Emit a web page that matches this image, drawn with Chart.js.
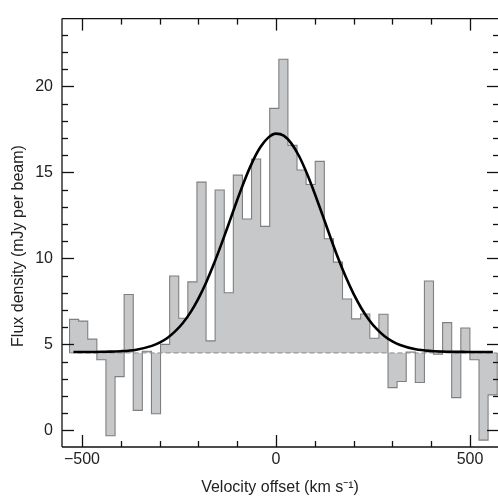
<!DOCTYPE html>
<html>
<head>
<meta charset="utf-8">
<script src="https://cdn.jsdelivr.net/npm/chart.js@4.4.0/dist/chart.umd.min.js"></script>
<style>
html,body{margin:0;padding:0;background:#fff;}
#wrap{width:498px;height:497px;}
</style>
</head>
<body>
<div id="wrap"><canvas id="c" width="498" height="497"></canvas></div>
<script>
// ---- data ----
const binCenters = [-520.3,-496.8,-473.4,-449.9,-426.5,-403.0,-379.6,-356.1,-332.7,-309.2,
  -285.8,-262.3,-238.9,-215.4,-192.0,-168.5,-145.1,-121.6,-98.2,-74.7,
  -51.3,-27.8,-4.4,19.1,42.5,66.0,89.4,112.9,136.3,159.8,
  183.2,206.7,230.1,253.6,277.0,300.5,323.9,347.4,370.8,394.3,
  417.7,441.2,464.6,488.1,511.5,535.0,558.4];
const fluxValues = [6.45,6.35,5.3,4.1,-0.32,3.12,7.9,1.16,4.6,0.96,
  5.0,8.97,6.52,8.63,14.43,5.2,13.97,8.0,14.84,12.29,
  15.78,11.86,18.72,21.58,16.57,15.14,14.29,15.64,11.14,9.78,
  7.64,6.48,6.76,5.35,6.75,2.48,2.84,4.55,2.78,8.68,
  4.42,6.26,1.9,5.95,4.1,-0.57,2.06];
const continuumLevel = 4.5;
const fitVelocity = [-522,-480,-440,-400,-360,-320,-300,-280,-260,-240,-220,-200,-180,-160,-140,-120,-100,-80,-60,-40,-20,
  0,20,40,60,80,100,120,140,160,180,200,220,240,260,280,300,320,360,400,440,480,520,559];
const fitFlux = [4.55,4.55,4.57,4.60,4.69,4.91,5.10,5.37,5.75,6.24,6.87,7.66,8.60,9.68,10.87,12.12,13.39,14.59,15.64,16.47,17.02,
  17.25,17.13,16.67,15.92,14.92,13.76,12.51,11.24,10.02,8.91,7.93,7.10,6.42,5.88,5.47,5.17,4.96,4.71,4.61,4.57,4.56,4.55,4.55];
const xTickLabels = [-500, 0, 500];
const yTickLabels = [0, 5, 10, 15, 20];
const xMinorStep = 100;
const yMinorStep = 1;

// ---- build library datasets ----
const halfW = (binCenters[1] - binCenters[0]) / 2;
const last = binCenters.length - 1;
const histPts = [{x: binCenters[0] - halfW, y: continuumLevel}];
binCenters.forEach((c, i) => histPts.push({x: c - halfW, y: fluxValues[i]}));
histPts.push({x: binCenters[last] + halfW, y: fluxValues[last]});
histPts.push({x: binCenters[last] + halfW, y: continuumLevel});
const basePts = [{x: binCenters[0] - halfW, y: continuumLevel}, {x: binCenters[last] + halfW, y: continuumLevel}];
const fitPts = fitVelocity.map((v, i) => ({x: v, y: fitFlux[i]}));

const FONT = '"Liberation Sans", Arial, Helvetica, sans-serif';
const TXT = '#222';

const frameTicks = {
  id: 'frameTicks',
  afterDraw(chart) {
    const {ctx, chartArea: a, scales: {x, y}} = chart;
    ctx.save();
    ctx.strokeStyle = '#111';
    ctx.lineWidth = 1.3;
    const seg = (x1, y1, x2, y2) => { ctx.beginPath(); ctx.moveTo(x1, y1); ctx.lineTo(x2, y2); ctx.stroke(); };
    seg(a.left, a.top, a.right + 2, a.top);
    seg(a.left, a.top, a.left, a.bottom);
    seg(a.left, a.bottom, a.right + 2, a.bottom);
    for (let v = Math.ceil(x.min / xMinorStep) * xMinorStep; v <= x.max; v += xMinorStep) {
      const px = Math.round(x.getPixelForValue(v)) + 0.5;
      const len = xTickLabels.includes(v) ? 12 : 6;
      seg(px, a.bottom, px, a.bottom - len);
      seg(px, a.top, px, a.top + len);
    }
    for (let v = Math.ceil(y.min / yMinorStep) * yMinorStep; v <= y.max; v += yMinorStep) {
      const py = Math.round(y.getPixelForValue(v)) + 0.5;
      const len = yTickLabels.includes(v) ? 12 : 6;
      seg(a.left, py, a.left + len, py);
      seg(a.right + 1, py, a.right + 1 - len, py);
    }
    // y-axis title
    ctx.fillStyle = TXT;
    ctx.font = '16px ' + FONT;
    ctx.textAlign = 'center';
    ctx.textBaseline = 'middle';
    ctx.translate(18.5, 246);
    ctx.rotate(-Math.PI / 2);
    ctx.fillText('Flux density (mJy per beam)', 0, 0);
    ctx.restore();
  }
};

new Chart(document.getElementById('c'), {
  type: 'line',
  data: {
    datasets: [
      {
        label: 'fit', data: fitPts, order: 0,
        borderColor: '#000', borderWidth: 2.6, pointRadius: 0,
        cubicInterpolationMode: 'monotone', fill: false
      },
      {
        label: 'continuum', data: basePts, order: 1,
        borderColor: '#8c8c8c', borderWidth: 1, borderDash: [5, 3],
        pointRadius: 0, fill: false
      },
      {
        label: 'spectrum', data: histPts, order: 2,
        stepped: 'before', tension: 0,
        borderColor: '#7f7f7f', borderWidth: 1.1,
        backgroundColor: '#c6c8ca',
        pointRadius: 0, fill: {value: continuumLevel}
      }
    ]
  },
  options: {
    responsive: false,
    animation: false,
    devicePixelRatio: 1,
    layout: {padding: {top: 11, right: 0, left: 0, bottom: 0}},
    plugins: {legend: {display: false}, tooltip: {enabled: false}},
    scales: {
      x: {
        type: 'linear', min: -551.5, max: 572.2,
        afterFit(s) { s.height = 50; },
        grid: {display: false, drawTicks: false, tickLength: 0},
        border: {display: false},
        ticks: {
          stepSize: 100, includeBounds: false, autoSkip: false, maxRotation: 0,
          padding: 3, color: TXT, font: {family: FONT, size: 16},
          callback: v => xTickLabels.includes(v) ? (v < 0 ? '\u2212' + Math.abs(v) : String(v)) : ''
        },
        title: {
          display: true, text: 'Velocity offset (km s\u207B\u00B9)',
          color: TXT, font: {family: FONT, size: 16}, padding: {top: 0, bottom: 0}
        }
      },
      y: {
        type: 'linear', min: -0.97, max: 23.94,
        afterFit(s) { s.width = 62; },
        grid: {display: false, drawTicks: false, tickLength: 0},
        border: {display: false},
        ticks: {
          stepSize: 5, includeBounds: false, autoSkip: false,
          padding: 9, color: TXT, font: {family: FONT, size: 16},
          callback: v => yTickLabels.includes(v) ? String(v) : ''
        }
      }
    }
  },
  plugins: [frameTicks]
});
</script>
</body>
</html>
